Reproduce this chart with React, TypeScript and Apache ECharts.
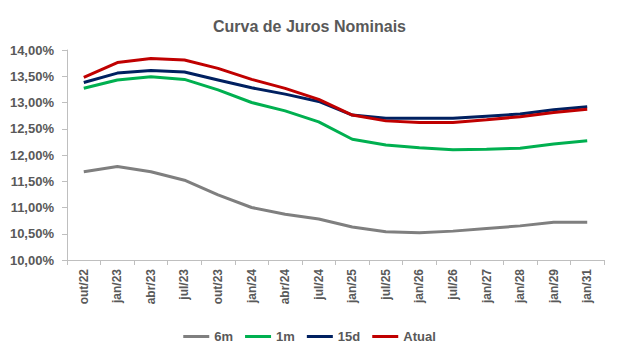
import React, { useEffect, useRef } from "react";
import * as echarts from "echarts";

const categories = ["out/22", "jan/23", "abr/23", "jul/23", "out/23", "jan/24", "abr/24", "jul/24", "jan/25", "jul/25", "jan/26", "jul/26", "jan/27", "jan/28", "jan/29", "jan/31"];
const m6 = [11.68, 11.78, 11.68, 11.52, 11.24, 11.0, 10.87, 10.78, 10.63, 10.54, 10.52, 10.55, 10.6, 10.65, 10.72, 10.72];
const m1 = [13.27, 13.43, 13.49, 13.44, 13.24, 13.0, 12.84, 12.63, 12.3, 12.19, 12.14, 12.1, 12.11, 12.13, 12.21, 12.27];
const d15 = [13.38, 13.56, 13.61, 13.58, 13.43, 13.28, 13.16, 13.02, 12.76, 12.7, 12.7, 12.7, 12.74, 12.78, 12.86, 12.92];
const atual = [13.48, 13.76, 13.84, 13.81, 13.65, 13.44, 13.27, 13.06, 12.76, 12.65, 12.62, 12.62, 12.67, 12.73, 12.81, 12.87];

const seriesNames = ["6m", "1m", "15d", "Atual"];
const seriesColors = ["#7F7F7F", "#00B050", "#002060", "#C00000"];
const seriesData = [m6, m1, d15, atual];

const FONT = "Liberation Sans";
const TXT = "#595959";

export default function App() {
  const ref = useRef<HTMLDivElement>(null);
  useEffect(() => {
    document.body.style.margin = "0";
    const chart = echarts.init(ref.current!, null, { renderer: "svg" });
    chart.setOption({
      animation: false,
      backgroundColor: "#fff",
      title: {
        text: "Curva de Juros Nominais",
        left: "center",
        top: 13,
        textStyle: { fontFamily: FONT, fontSize: 16, fontWeight: "bold", color: TXT },
      },
      legend: {
        data: seriesNames,
        top: 325,
        left: "center",
        icon: "rect",
        itemWidth: 26,
        itemHeight: 3,
        itemGap: 12,
        textStyle: { fontFamily: FONT, fontSize: 13, fontWeight: "bold", color: TXT },
      },
      grid: { left: 67, right: 15, top: 50, bottom: 97, containLabel: false },
      xAxis: {
        type: "category",
        data: categories,
        boundaryGap: true,
        axisLine: { lineStyle: { color: "#BFBFBF", width: 1 } },
        axisTick: { show: true, length: 5, lineStyle: { color: "#BFBFBF" } },
        axisLabel: { rotate: 90, margin: 9, interval: 0, fontFamily: FONT, fontSize: 12, fontWeight: "bold", color: TXT },
      },
      yAxis: {
        type: "value",
        min: 10,
        max: 14,
        interval: 0.5,
        splitLine: { show: false },
        axisLine: { show: true, lineStyle: { color: "#BFBFBF", width: 1 } },
        axisTick: { show: true, length: 5, lineStyle: { color: "#BFBFBF" } },
        axisLabel: {
          margin: 13,
          fontFamily: FONT,
          fontSize: 13,
          fontWeight: "bold",
          color: TXT,
          formatter: (v: number) => v.toFixed(2).replace(".", ",") + "%",
        },
      },
      series: seriesNames.map((name, i) => ({
        name,
        type: "line",
        data: seriesData[i],
        showSymbol: false,
        symbol: "none",
        color: seriesColors[i],
        lineStyle: { width: 3, color: seriesColors[i] },
      })),
    });
    return () => chart.dispose();
  }, []);
  return <div ref={ref} style={{ width: 619, height: 357 }} />;
}
